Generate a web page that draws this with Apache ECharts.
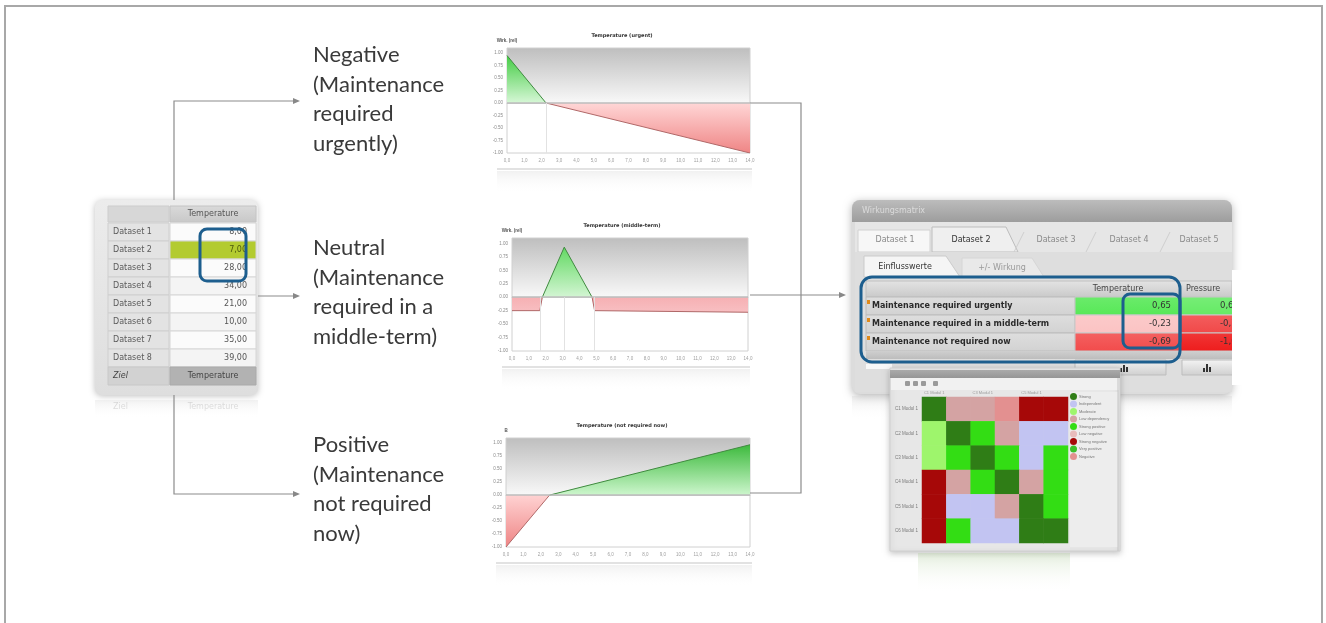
<!DOCTYPE html>
<html><head><meta charset="utf-8">
<script src="https://cdn.jsdelivr.net/npm/echarts@6/dist/echarts.min.js"></script>
<style>html,body{margin:0;padding:0;background:#fff}#c{width:1326px;height:623px}</style>
</head><body><div id="c"></div>
<script>
// ---------------- DATA ----------------
const datasetNames = ['Dataset 1','Dataset 2','Dataset 3','Dataset 4','Dataset 5','Dataset 6','Dataset 7','Dataset 8'];
const datasetTemperature = [8, 7, 28, 34, 21, 10, 35, 39];
const highlightedDataset = 1;
const targetLabel = 'Ziel';
const targetColumn = 'Temperature';

const categoryTexts = [
  ['Negative','(Maintenance','required','urgently)'],
  ['Neutral','(Maintenance','required in a','middle-term)'],
  ['Positive','(Maintenance','not required','now)']
];
const chartTitles = ['Temperature (urgent)','Temperature (middle-term)','Temperature (not required now)'];
const yAxisNames = ['Wirk. (rel)','Wirk. (rel)','B'];
const xTickLabels = ['0,0','1,0','2,0','3,0','4,0','5,0','6,0','7,0','8,0','9,0','10,0','11,0','12,0','13,0','14,0'];

// curve points [x, effect] (crossings of zero included)
const urgentCurve = [[0, 0.95], [2.25, 0], [14, -1.0]];
const middleCurve = [[0, -0.25], [1.65, -0.25], [1.8, 0], [3.1, 0.93], [4.75, 0], [4.9, -0.25], [14, -0.28]];
const notRequiredCurve = [[0, -1.0], [2.5, 0], [14, 0.97]];
const urgentBreaks = [2.25];
const middleBreaks = [1.65, 3.1, 4.9];
const notRequiredBreaks = [];

const panelTabs = ['Dataset 1','Dataset 2','Dataset 3','Dataset 4','Dataset 5'];
const activeTab = 1;
const subTabs = ['Einflusswerte','+/- Wirkung'];
const influenceColumns = ['Temperature','Pressure'];
const influenceRows = ['Maintenance required urgently','Maintenance required in a middle-term','Maintenance not required now'];
const influenceTemperature = [0.65, -0.23, -0.69];
const influencePressure = [0.60, -0.70, -1.00];

const matrixLabels = ['C1 Modul 1','C2 Modul 1','C3 Modul 1','C4 Modul 1','C5 Modul 1','C6 Modul 1'];
const matrixClasses = [
  [0,3,3,8,6,6],
  [2,0,4,3,1,1],
  [2,4,0,4,1,4],
  [6,3,4,0,3,4],
  [6,1,1,3,0,4],
  [6,4,1,1,0,0]
];
const classNames = ['Strong','Independent','Moderate','Low dependency','Strong positive','Low negative','Strong negative','Very positive','Negative'];
const classColors = ['#2f7d16','#c2c4f2','#9ef56c','#d4a3a3','#33dd14','#e8bcbc','#a60808','#3cbf2a','#e39090'];

// ---------------- HELPERS ----------------
const G = [];
const lin = (stops, x2=0, y2=1) => ({type:'linear', x:0, y:0, x2, y2, colorStops: stops.map(([o,c]) => ({offset:o, color:c}))});
function R(x, y, w, h, fill, o = {}) {
  G.push({type:'rect', silent:true, z: o.z || 0,
    shape:{x, y, width:w, height:h, r:o.r || 0},
    style:Object.assign({fill:fill, stroke:o.stroke || null, lineWidth:o.lw || 1}, o.style || {})});
}
function T(x, y, text, o = {}) {
  G.push({type:'text', silent:true, x, y, z: o.z || 0,
    style:{text, fill:o.color || '#333', font:o.font || '8px "DejaVu Sans"',
      align:o.align || 'left', textAlign:o.align || 'left', verticalAlign:'middle', textVerticalAlign:'middle',
      opacity:o.opacity == null ? 1 : o.opacity}});
}
function L(points, color = '#8c8c8c', w = 1.2) {
  G.push({type:'polyline', silent:true, shape:{points}, style:{stroke:color, lineWidth:w, fill:null}});
}
function P(points, fill, o = {}) {
  G.push({type:'polygon', silent:true, shape:{points}, style:Object.assign({fill, stroke:o.stroke || null, lineWidth:o.lw || 1}, o.style || {})});
}
function arrow(x, y) { P([[x, y - 3], [x + 7, y], [x, y + 3]], '#888'); }
const fmt = (v, d = 2) => v.toFixed(d).replace('.', ',');
function mix(c1, c2, t) {
  const a = c1.match(/\w\w/g).map(h => parseInt(h, 16)), b = c2.match(/\w\w/g).map(h => parseInt(h, 16));
  return '#' + a.map((v, i) => Math.round(v + (b[i] - v) * t).toString(16).padStart(2, '0')).join('');
}
const effectColor = v => v >= 0 ? mix('ffffff', '1ee01e', Math.min(1, v * 1.15)) : mix('ffffff', 'ee1c1c', Math.min(1, -v * 1.15));

// ---------------- FRAME ----------------
L([[5, 640], [5, 6], [1322, 6], [1322, 640]], '#a8a8a8', 2);

// ---------------- LEFT TABLE ----------------
const TB = {x:95, y:200, w:163, h:195, lx:108, lw:61, vx:170, vw:86, headY:206, rowY:223, rowH:18};
R(TB.x, TB.y, TB.w, TB.h, lin([[0,'#ececec'],[1,'#dedede']]), {r:7, style:{shadowBlur:6, shadowColor:'rgba(0,0,0,0.25)', shadowOffsetY:1}});
R(TB.lx, TB.headY, TB.lw, 16, '#d7d7d7', {stroke:'#cdcdcd'});
R(TB.vx, TB.headY, TB.vw, 16, lin([[0,'#dadada'],[1,'#c8c8c8']]), {stroke:'#c4c4c4'});
T(TB.vx + TB.vw / 2, TB.headY + 8, targetColumn, {align:'center', color:'#555'});
datasetNames.forEach((n, i) => {
  const y = TB.rowY + i * TB.rowH;
  R(TB.lx, y, TB.lw, TB.rowH, '#e3e3e3', {stroke:'#cfcfcf'});
  R(TB.vx, y, TB.vw, TB.rowH, i === highlightedDataset ? '#b3cb30' : (i % 2 ? '#f4f4f4' : '#fbfbfb'), {stroke:'#d6d6d6'});
  T(TB.lx + 5, y + TB.rowH / 2, n, {color:'#5a5a5a'});
  T(TB.vx + TB.vw - 9, y + TB.rowH / 2, fmt(datasetTemperature[i]), {align:'right', color: i === highlightedDataset ? '#4d5a10' : '#555'});
});
const zy = TB.rowY + datasetNames.length * TB.rowH;
R(TB.lx, zy, TB.lw, TB.rowH, '#d2d2d2', {stroke:'#c8c8c8'});
R(TB.vx, zy, TB.vw, TB.rowH, '#b2b2b2', {stroke:'#aaaaaa'});
T(TB.lx + 5, zy + TB.rowH / 2, targetLabel, {color:'#444', font:'italic 8px "DejaVu Sans"'});
T(TB.vx + TB.vw / 2, zy + TB.rowH / 2, targetColumn, {align:'center', color:'#444'});
// reflection
R(TB.x, TB.y + TB.h + 5, TB.w, 18, lin([[0,'rgba(225,225,225,0.45)'],[1,'rgba(255,255,255,0)']]));
T(TB.lx + 5, TB.y + TB.h + 12, targetLabel, {color:'#555', opacity:0.18});
T(TB.vx + TB.vw / 2, TB.y + TB.h + 12, targetColumn, {color:'#555', align:'center', opacity:0.18});
// blue highlight box
R(200, 229, 46, 52, null, {r:7, stroke:'#1d5e8e', lw:3});

// ---------------- CONNECTORS ----------------
L([[174, 200], [174, 101], [293, 101]]); arrow(293, 101);
L([[258, 296], [293, 296]]); arrow(293, 296);
L([[174, 395], [174, 494], [293, 494]]); arrow(293, 494);
L([[750, 103], [801, 103], [801, 493], [750, 493]]);
L([[750, 295], [839, 295]]); arrow(839, 295);

// ---------------- CATEGORY TEXTS ----------------
const textStarts = [55, 248, 445];
categoryTexts.forEach((lines, g) => lines.forEach((s, i) =>
  T(313, textStarts[g] + i * 29.7, s, {font:'22px Lato', color:'#3a3a3a'})));

// ---------------- SMALL CHART DECOR ----------------
const grids = [
  {left:507, top:48, width:243, height:105},
  {left:512, top:238, width:236, height:113},
  {left:506, top:438, width:244, height:109}
];
grids.forEach((g, i) => {
  T(622, g.top - 12, chartTitles[i], {align:'center', font:'bold 5px "DejaVu Sans"', color:'#333'});
  const by = g.top + g.height;
  L([[g.left - 10, by + 16], [g.left + g.width + 2, by + 16]], '#d8d8d8', 1.5);
  R(g.left - 10, by + 18, g.width + 12, 22, lin([[0,'rgba(235,235,235,0.7)'],[1,'rgba(255,255,255,0)']]));
});

// ---------------- RIGHT PANEL ----------------
const PX = 852, PR = 1232;
R(PX, 200, PR - PX, 194, '#dcdcdc', {r:8, style:{shadowBlur:8, shadowColor:'rgba(0,0,0,0.3)', shadowOffsetY:2}});
R(PX, 200, PR - PX, 22, lin([[0,'#bcbcbc'],[1,'#9d9d9d']]), {r:[8,8,0,0]});
T(862, 211, 'Wirkungsmatrix', {color:'rgba(255,255,255,0.55)', font:'8px "DejaVu Sans"'});
R(PX + 3, 222, PR - PX - 3, 30, '#e6e6e6');
const tabX = [858, 932, 1020, 1092, 1166], tabW = [74, 86, 72, 74, 66];
panelTabs.forEach((t, i) => {
  const x = tabX[i], w = tabW[i];
  if (i === activeTab) P([[x, 252], [x, 227], [x + w - 12, 227], [x + w, 252]], '#efefef', {stroke:'#bdbdbd'});
  else if (i === 0) R(x, 230, w - 2, 22, '#f7f7f7', {stroke:'#d2d2d2'});
  else L([[x - 6, 252], [x + 4, 232]], '#cfcfcf', 1);
  T(x + w / 2 - (i === activeTab ? 4 : 0), 240, t, {align:'center', color: i === activeTab ? '#333' : '#8a8a8a', font:'8px "DejaVu Sans"'});
});
R(PX + 3, 252, PR - PX - 3, 140, '#dedede');
P([[864, 277], [864, 256], [946, 256], [960, 277]], '#f5f5f5', {stroke:'#cbcbcb'});
P([[962, 277], [962, 258], [1032, 258], [1044, 277]], '#e9e9e9', {stroke:'#d6d6d6'});
T(905, 267, subTabs[0], {align:'center', color:'#333'});
T(1002, 268, subTabs[1], {align:'center', color:'#9a9a9a'});
// influence table
const IT = {x:866, lw:209, tx:1075, tw:105, px:1180, pw:60, headY:281, rowY:297, rowH:18};
R(IT.x, IT.headY, PR - IT.x, 16, lin([[0,'#e4e4e4'],[1,'#c9c9c9']]), {stroke:'#c0c0c0'});
T(1118, IT.headY + 8, influenceColumns[0], {align:'center', color:'#444'});
T(1186, IT.headY + 8, influenceColumns[1], {color:'#444'});
influenceRows.forEach((name, i) => {
  const y = IT.rowY + i * IT.rowH;
  R(IT.x, y, IT.lw, IT.rowH, lin([[0,'#dedede'],[1,'#d2d2d2']]), {stroke:'#bcbcbc'});
  R(IT.x + 1, y + 3, 3, 4, '#e08a1a');
  T(IT.x + 6, y + IT.rowH / 2, name, {color:'#2a2a2a', font:'bold 8px "DejaVu Sans"'});
  const tc = effectColor(influenceTemperature[i]);
  R(IT.tx, y, IT.tw, IT.rowH, lin([[0, mix(tc.slice(1), 'ffffff', 0.12)], [1, tc]]), {stroke:'#c8c8c8'});
  T(IT.tx + IT.tw - 9, y + IT.rowH / 2, fmt(influenceTemperature[i]), {align:'right', color:'#333', font:'8.5px "DejaVu Sans"'});
  const pc = effectColor(influencePressure[i]);
  R(IT.px, y, IT.pw, IT.rowH, lin([[0, mix(pc.slice(1), 'ffffff', 0.12)], [1, pc]]), {stroke:'#c8c8c8'});
  T(IT.px + 40, y + IT.rowH / 2, fmt(influencePressure[i]), {color:'#333', font:'8.5px "DejaVu Sans"'});
});
R(IT.x, 351, PR - IT.x, 8, lin([[0,'#cfcfcf'],[1,'#bdbdbd']]));
R(IT.x, 364, 26, 5, '#f8f8f8');
R(IT.tx, 360, IT.tw - 14, 15, lin([[0,'#f4f4f4'],[1,'#cfcfcf']]), {stroke:'#bdbdbd'});
R(IT.px + 2, 360, 56, 15, lin([[0,'#f4f4f4'],[1,'#cfcfcf']]), {stroke:'#bdbdbd'});
[[1120, 4], [1123, 7], [1126, 5], [1203, 4], [1206, 8], [1209, 5]].forEach(([x, h]) => R(x, 372 - h, 2, h, '#333'));
// cover the cut-off part of the window
R(PR, 270, 80, 115, '#ffffff');
R(PX, 396, PR - PX, 24, lin([[0,'rgba(215,215,215,0.45)'],[1,'rgba(255,255,255,0)']]));
// blue boxes
R(861, 277, 319, 85, null, {r:11, stroke:'#1d5e8e', lw:3});
R(1123, 294, 57, 54, null, {r:7, stroke:'#1d5e8e', lw:3});

// heatmap window
R(890, 368, 230, 183, '#e7e7e7', {stroke:'#d0d0d0', style:{shadowBlur:6, shadowColor:'rgba(0,0,0,0.22)', shadowOffsetY:2}});
R(890, 370, 230, 8, lin([[0,'#aaaaaa'],[1,'#959595']]));
R(891, 378, 228, 12, '#f1f1f1');
[905, 913, 921, 933].forEach(x => R(x, 381, 5, 5, '#9a9a9a', {r:1}));
R(1070, 392, 48, 155, '#ededed');
L([[1118, 378], [1118, 551]], '#c4c4c4', 1);
R(918, 553, 152, 40, lin([[0,'rgba(175,205,155,0.35)'],[1,'rgba(255,255,255,0)']]));

// ---------------- SERIES ----------------
const curves = [urgentCurve, middleCurve, notRequiredCurve];
const breaks = [urgentBreaks, middleBreaks, notRequiredBreaks];
const greenGrad = [['#45cc45','#d6f7d6'], ['#62d962','#d3f5d3'], ['#3dba3d','#cdf6cd']];
const redGrad = [['#ffd6d6','#ef8585'], ['#f6b0b3','#f8bfc2'], ['#ffd2d2','#ee8585']];
const series = [];
curves.forEach((c, i) => {
  series.push({
    type:'line', xAxisIndex:i, yAxisIndex:i, symbol:'none', silent:true, z:3,
    data:c.map(p => p[1] >= 0 ? p : [p[0], '-']),
    lineStyle:{color:'#3f8a3f', width:1},
    areaStyle:{origin:0, opacity:1, color:lin([[0, greenGrad[i][0]], [1, greenGrad[i][1]]])}
  });
  series.push({
    type:'line', xAxisIndex:i, yAxisIndex:i, symbol:'none', silent:true, z:3,
    data:c.map(p => p[1] <= 0 ? p : [p[0], '-']),
    lineStyle:{color:'#b06868', width:1},
    areaStyle:{origin:0, opacity:1, color:lin([[0, redGrad[i][0]], [1, redGrad[i][1]]])},
    markLine:{symbol:'none', silent:true, animation:false, label:{show:false},
      lineStyle:{color:'#bcbcbc', width:1.5, type:'solid'},
      data:[{yAxis:0}].concat(breaks[i].map(b => [{coord:[b, 0], lineStyle:{color:'#e2e2e2', width:1, type:'solid'}}, {coord:[b, -1]}]))}
  });
});
const heatData = [];
matrixClasses.forEach((row, r) => row.forEach((v, cIdx) => heatData.push([cIdx, r, v])));
series.push({type:'heatmap', xAxisIndex:3, yAxisIndex:3, data:heatData, silent:true,
  itemStyle:{borderWidth:0}, emphasis:{disabled:true}, z:3});

const plotBg = () => lin([[0,'#bebebe'], [0.52,'#f8f8f8'], [0.525,'#ffffff'], [1,'#ffffff']]);
const valueX = i => ({gridIndex:i, type:'value', min:0, max:14, interval:1,
  axisLine:{show:true, lineStyle:{color:'#cfcfcf'}}, axisTick:{show:false}, splitLine:{show:false},
  axisLabel:{fontSize:4.5, color:'#a0a0a0', margin:5, formatter:v => xTickLabels[v] || ''}});
const valueY = i => ({gridIndex:i, type:'value', min:-1, max:1.1, interval:0.25,
  name:yAxisNames[i], nameGap:5, nameTextStyle:{fontSize:4.5, color:'#555', fontWeight:'bold'},
  axisLine:{show:false}, axisTick:{show:false}, splitLine:{show:false},
  axisLabel:{fontSize:4.5, color:'#8a8a8a', margin:4, showMaxLabel:false, formatter:v => v.toFixed(2)}});

const option = {
  animation:false,
  backgroundColor:'#ffffff',
  grid:grids.map(g => Object.assign({show:true, backgroundColor:plotBg(), borderColor:'#d0d0d0', borderWidth:1}, g))
    .concat([{left:922, top:397, width:146, height:146, show:false}]),
  xAxis:[valueX(0), valueX(1), valueX(2),
    {gridIndex:3, type:'category', data:matrixLabels, position:'top', axisLine:{show:false}, axisTick:{show:false},
     axisLabel:{fontSize:4, color:'#9a9a9a', margin:2}}],
  yAxis:[valueY(0), valueY(1), valueY(2),
    {gridIndex:3, type:'category', data:matrixLabels, inverse:true, axisLine:{show:false}, axisTick:{show:false},
     axisLabel:{fontSize:4.5, color:'#7a7a7a', margin:4}}],
  visualMap:{type:'piecewise', seriesIndex:6, orient:'vertical', left:1068, top:391, padding:2, inverse:true, align:'left',
    itemWidth:7, itemHeight:7, itemGap:0.5, itemSymbol:'circle', textGap:2,
    textStyle:{fontSize:4, color:'#777'},
    pieces:classColors.map((c, i) => ({value:i, color:c, label:classNames[i]}))},
  series,
  graphic:{elements:G}
};
const chart = echarts.init(document.getElementById('c'));
chart.setOption(option);
</script></body></html>
